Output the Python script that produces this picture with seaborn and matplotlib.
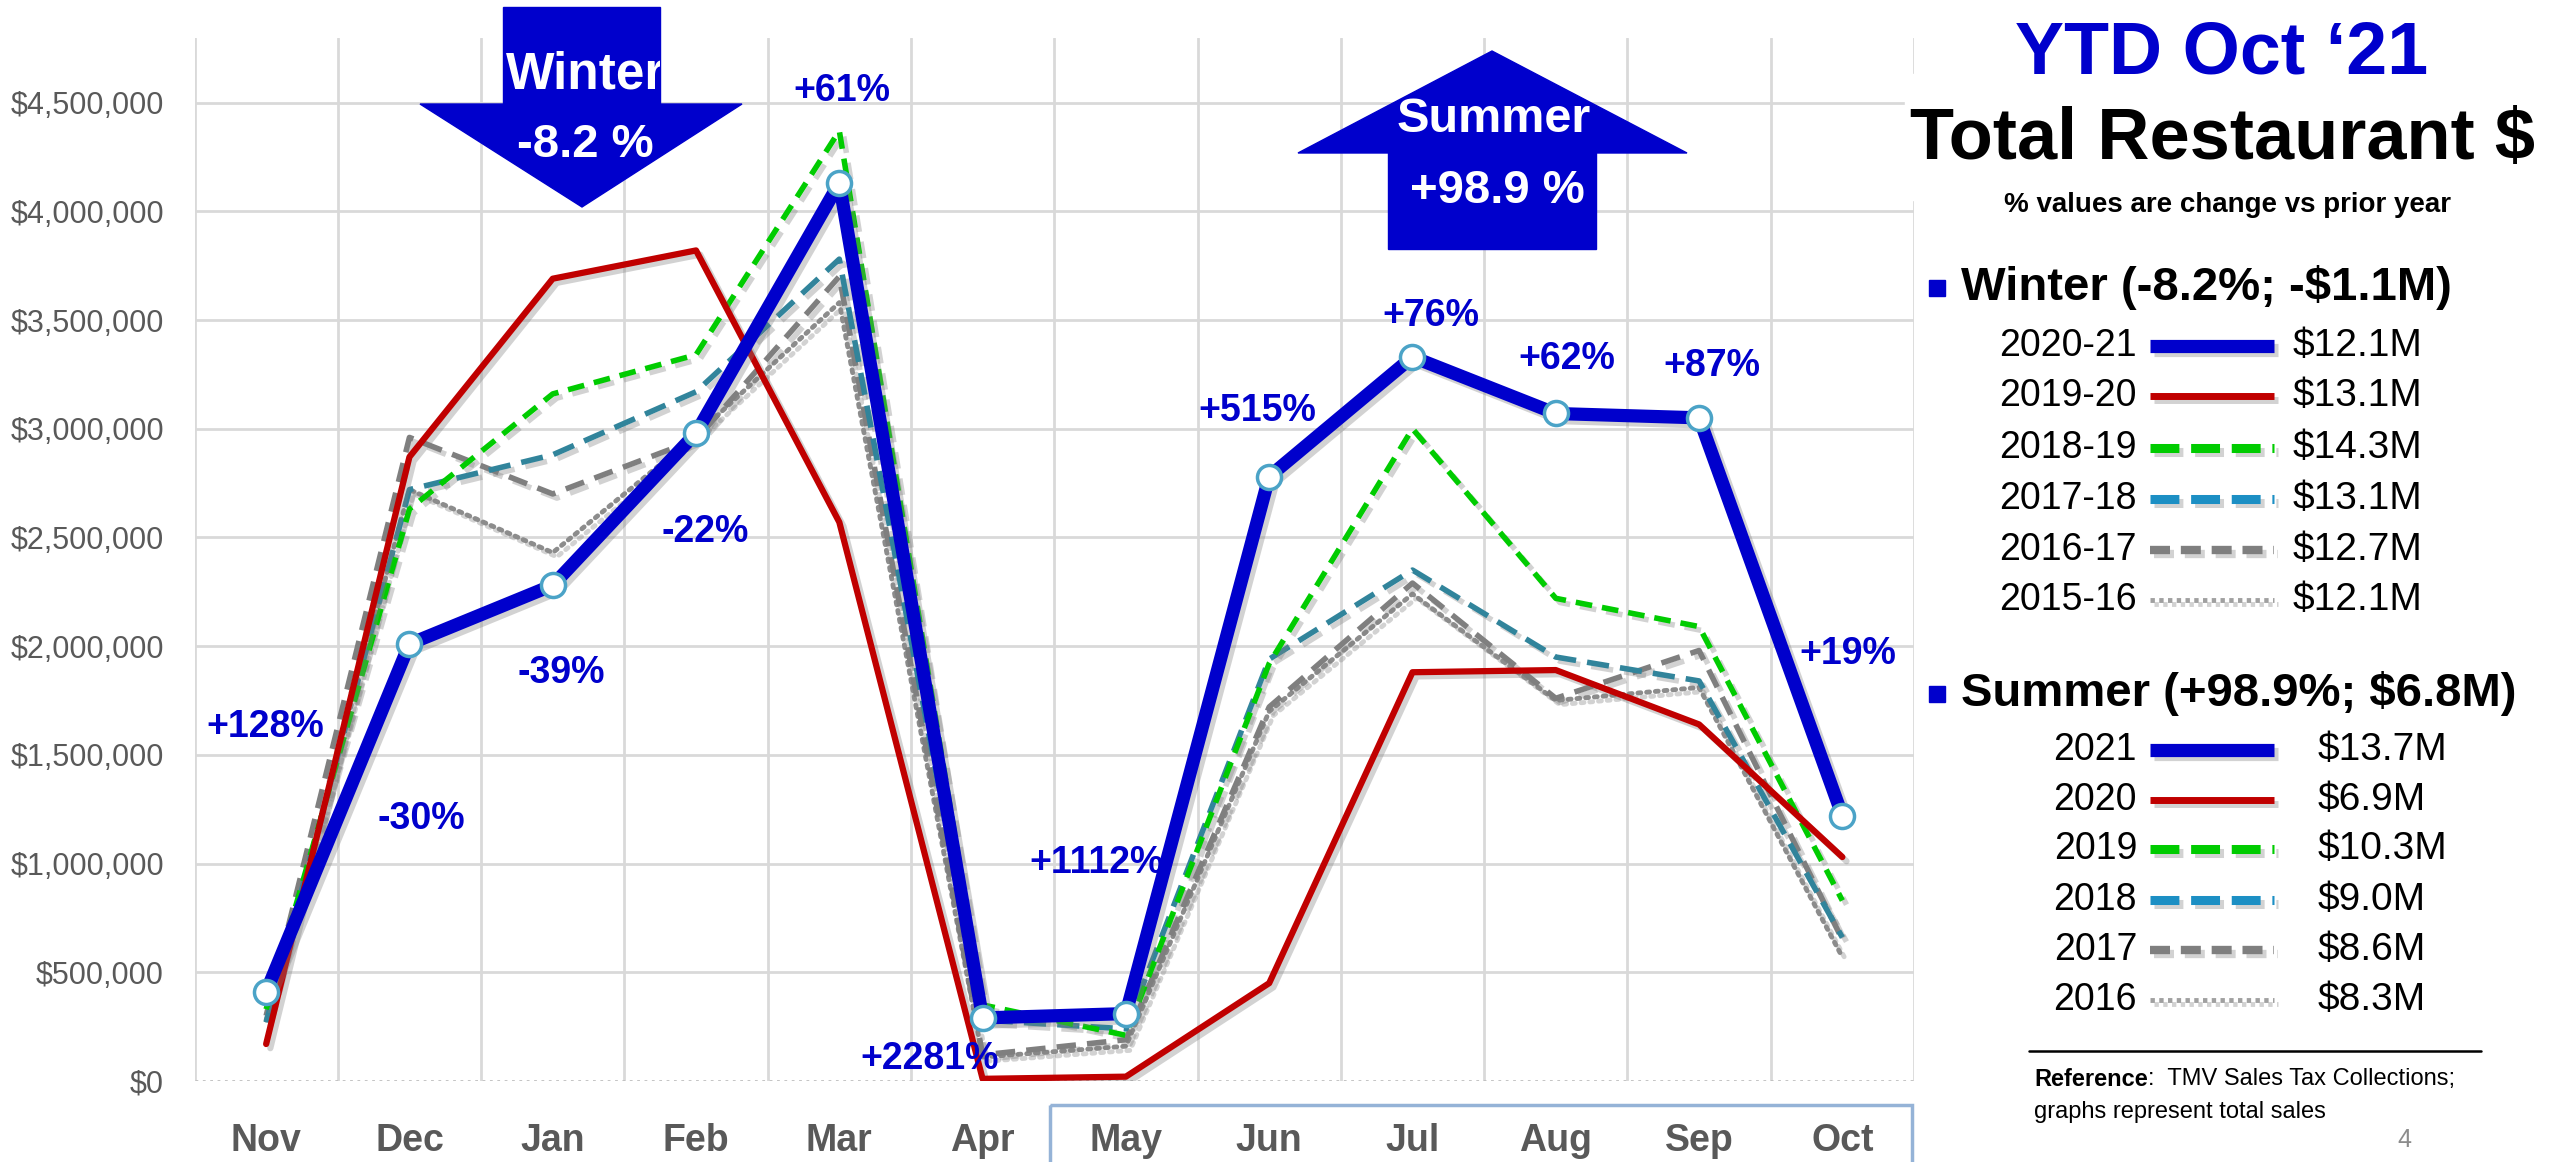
import numpy as np
import pandas as pd
import matplotlib.pyplot as plt
import matplotlib.patheffects as pe
from matplotlib.patches import Polygon, Rectangle
from matplotlib.lines import Line2D
from matplotlib.transforms import Affine2D
import seaborn as sns

months = ["Nov", "Dec", "Jan", "Feb", "Mar", "Apr",
          "May", "Jun", "Jul", "Aug", "Sep", "Oct"]

# monthly totals, $M
s2021 = [0.41, 2.01, 2.28, 2.98, 4.13, 0.29, 0.31, 2.78, 3.33, 3.07, 3.05, 1.22]
s2020 = [0.17, 2.87, 3.69, 3.82, 2.57, 0.01, 0.02, 0.45, 1.88, 1.89, 1.64, 1.03]
s2019 = [0.33, 2.63, 3.16, 3.34, 4.37, 0.35, 0.21, 1.92, 3.00, 2.22, 2.09, 0.83]
s2018 = [0.27, 2.72, 2.88, 3.17, 3.78, 0.28, 0.24, 1.94, 2.35, 1.95, 1.84, 0.66]
s2017 = [0.30, 2.96, 2.70, 2.95, 3.70, 0.12, 0.19, 1.72, 2.29, 1.76, 1.98, 0.65]
s2016 = [0.28, 2.72, 2.43, 2.97, 3.58, 0.11, 0.16, 1.70, 2.24, 1.75, 1.81, 0.57]

pct_labels = ["+128%", "-30%", "-39%", "-22%", "+61%", "+2281%",
              "+1112%", "+515%", "+76%", "+62%", "+87%", "+19%"]
pct_pos = [(265, 727), (421, 819), (561, 673), (705, 532), (842, 91), (930, 1059),
           (1097, 863), (1257, 411), (1431, 316), (1567, 359), (1712, 366), (1848, 654)]

winter_years = ["2020-21", "2019-20", "2018-19", "2017-18", "2016-17", "2015-16"]
winter_totals = ["$12.1M", "$13.1M", "$14.3M", "$13.1M", "$12.7M", "$12.1M"]
summer_years = ["2021", "2020", "2019", "2018", "2017", "2016"]
summer_totals = ["$13.7M", "$6.9M", "$10.3M", "$9.0M", "$8.6M", "$8.3M"]

BLUE = "#0000CC"
styles = [
    dict(color=BLUE, lw=9.5, ls="-"),
    dict(color="#C00000", lw=4.5, ls="-"),
    dict(color="#00CC00", lw=4, ls=(0, (3, 1.8))),
    dict(color="#31849B", lw=4, ls=(0, (4, 2))),
    dict(color="#7F7F7F", lw=4, ls=(0, (3.5, 2))),
    dict(color="#8C8C8C", lw=3.5, ls=(0, (0.6, 1.2))),
]
series = [s2021, s2020, s2019, s2018, s2017, s2016]

sns.set_style("white")
plt.rcParams["font.family"] = ["Liberation Sans", "DejaVu Sans"]

W, H = 2552, 1162
fig = plt.figure(figsize=(W / 100, H / 100), dpi=100)
px = Affine2D().scale(1 / W, -1 / H).translate(0, 1) + fig.transFigure

ax = fig.add_axes([194.5 / W, 1 - 1081 / H, (1914 - 194.5) / W, (1081 - 38) / H])

shadow = [pe.SimpleLineShadow(offset=(3, -3), shadow_color="#808080", alpha=0.35), pe.Normal()]
# draw oldest first so 2020-21 sits on top
for vals, st in reversed(list(zip(series, styles))):
    df = pd.DataFrame({"month": months, "sales": np.array(vals) * 1e6})
    sns.lineplot(data=df, x="month", y="sales", sort=False, ax=ax,
                 color=st["color"], linewidth=st["lw"], linestyle=st["ls"],
                 dash_capstyle="round" if st["lw"] < 4 else "butt",
                 path_effects=shadow)
# markers on the current year
sns.scatterplot(x=months, y=np.array(s2021) * 1e6, ax=ax, s=300, color="white",
                edgecolor="#4BA3C7", linewidth=2.5, zorder=5)

ax.set_xlim(-0.5, 11.5)
ax.set_ylim(0, 4.797e6)
ax.set_yticks(np.arange(0, 4.6e6, 5e5))
ax.set_yticklabels([f"${v:,.0f}" for v in np.arange(0, 4.6e6, 5e5)],
                   fontsize=22, color="#595959")
ax.set_xticks(range(12))
ax.set_xticklabels(months, fontsize=27, fontweight="bold", color="#595959")
ax.set_xticks(np.arange(-0.5, 12, 1), minor=True)
ax.tick_params(axis="both", which="both", length=0)
ax.tick_params(axis="y", pad=22)
ax.tick_params(axis="x", pad=30)
ax.grid(which="minor", axis="x", color="#D9D9D9", lw=2)
ax.grid(which="major", axis="y", color="#D9D9D9", lw=2)
ax.grid(which="major", axis="x", visible=False)
ax.yaxis.get_gridlines()[0].set_linestyle(":")
ax.yaxis.get_gridlines()[0].set_color("#BFBFBF")
ax.set_axisbelow(True)
for sp in ax.spines.values():
    sp.set_visible(False)
ax.set_xlabel("")
ax.set_ylabel("")

# percentage change labels
for lab, (x, y) in zip(pct_labels, pct_pos):
    fig.text(x, y, lab, transform=px, ha="center", va="center",
             fontsize=27, fontweight="bold", color=BLUE, zorder=6)

# season box under May-Oct
fig.add_artist(Rectangle((1050, 1105), 862, 80, transform=px, fill=False,
                         edgecolor="#95B3D7", lw=2.5))

# winter arrow
wrect = Rectangle((503, 7), 157, 97, transform=px, color=BLUE, zorder=7)
fig.add_artist(wrect)
fig.add_artist(Polygon([(420, 104), (742, 104), (582, 207)], closed=True,
                       transform=px, color=BLUE, zorder=7))
t = fig.text(506, 75, "Winter", transform=px, ha="left", va="center",
             fontsize=37, fontweight="bold", color="white", zorder=8)
t.set_clip_path(wrect)
fig.text(585, 145, "-8.2 %", transform=px, ha="center", va="center",
         fontsize=34, fontweight="bold", color="white", zorder=8)

# summer arrow
fig.add_artist(Polygon([(1298, 153), (1687, 153), (1492, 51)], closed=True,
                       transform=px, color=BLUE, zorder=7))
fig.add_artist(Rectangle((1388, 152), 208, 97, transform=px, color=BLUE, zorder=7))
fig.text(1494, 119, "Summer", transform=px, ha="center", va="center",
         fontsize=35, fontweight="bold", color="white", zorder=8)
fig.text(1497, 191, "+98.9 %", transform=px, ha="center", va="center",
         fontsize=34, fontweight="bold", color="white", zorder=8)

# right panel
fig.add_artist(Rectangle((1905, 74), 647, 126, transform=px, color="white", zorder=3))
fig.text(2222, 54, "YTD Oct \u201821", transform=px, ha="center", va="center",
         fontsize=53, fontweight="bold", color=BLUE)
fig.text(2223, 140, "Total Restaurant $", transform=px, ha="center", va="center",
         fontsize=52, fontweight="bold", color="black")
fig.text(2227, 205, "% values are change vs prior year", transform=px,
         ha="center", va="center", fontsize=20, fontweight="bold", color="black")

leg_styles = [
    dict(color=BLUE, lw=9.5, ls="-"),
    dict(color="#C00000", lw=5, ls="-"),
    dict(color="#00CC00", lw=6.5, ls=(0, (3.2, 1.3))),
    dict(color="#1C8FC4", lw=6.5, ls=(0, (3.2, 1.3))),
    dict(color="#7F7F7F", lw=6, ls=(0, (2.4, 1.3))),
    dict(color="#A0A0A0", lw=3.5, ls=(0, (0.9, 0.9))),
]


def legend_block(head, y_head, years, totals, y_rows, val_x):
    fig.add_artist(Rectangle((1929, y_head - 8), 16, 16, transform=px, color=BLUE))
    fig.text(1961, y_head, head, transform=px, ha="left", va="center",
             fontsize=34, fontweight="bold", color="black")
    for yr, tot, y, st in zip(years, totals, y_rows, leg_styles):
        fig.text(2137, y, yr, transform=px, ha="right", va="center",
                 fontsize=27, color="black")
        fig.add_artist(Line2D([2150, 2274], [y, y], transform=px, color=st["color"],
                              lw=st["lw"], ls=st["ls"], solid_capstyle="butt",
                              path_effects=shadow))
        fig.text(val_x, y, tot, transform=px, ha="left", va="center",
                 fontsize=28, color="black")


legend_block("Winter (-8.2%; -$1.1M)", 288, winter_years, winter_totals,
             [346, 396, 448, 499, 550, 600], 2293)
legend_block("Summer (+98.9%; $6.8M)", 694, summer_years, summer_totals,
             [750, 800, 849, 900, 950, 1000], 2318)

fig.add_artist(Line2D([2029, 2481], [1051, 1051], transform=px, color="black", lw=1.8))
ref = fig.text(2034, 1079, "Reference", transform=px, ha="left", va="center",
               fontsize=17, fontweight="bold", color="black")
fig.add_artist(plt.Annotation(":  TMV Sales Tax Collections;", xy=(1, 0.5), xycoords=ref,
                              ha="left", va="center", fontsize=17, color="black"))
fig.text(2034, 1112, "graphs represent total sales", transform=px, ha="left",
         va="center", fontsize=17, color="black")
fig.text(2404, 1140, "4", transform=px, ha="center", va="center",
         fontsize=18, color="#8C8C8C")

fig.savefig("out.png", dpi=100, facecolor="white")
